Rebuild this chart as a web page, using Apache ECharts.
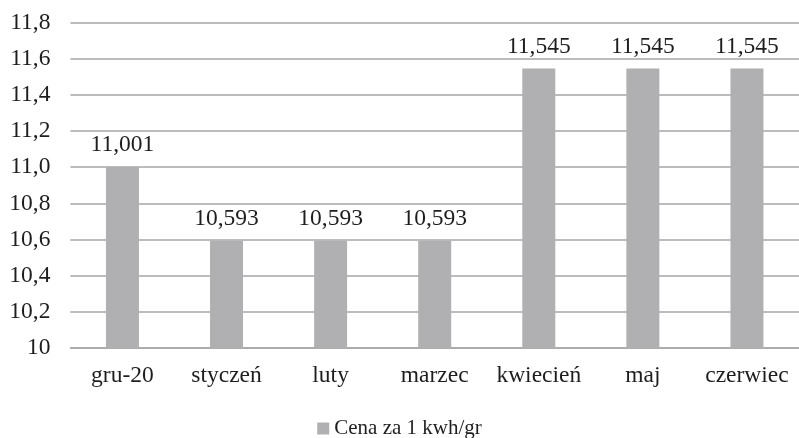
<!DOCTYPE html>
<html><head><meta charset="utf-8">
<script src="https://cdn.jsdelivr.net/npm/echarts@6/dist/echarts.min.js"></script>
<style>html,body{margin:0;padding:0;background:#fff}#c{width:799px;height:438px}</style>
</head><body><div id="c"></div>
<script>
const categories = ["gru-20","styczeń","luty","marzec","kwiecień","maj","czerwiec"];
const values = [11.001,10.593,10.593,10.593,11.545,11.545,11.545];
const seriesName = "Cena za 1 kwh/gr";
const FONT = "Liberation Serif";
const chart = echarts.init(document.getElementById('c'));
const fmt = v => Math.abs(v-10)<1e-9 ? "10" : v.toFixed(1).replace('.',',');
chart.setOption({
  animation:false,
  textStyle:{fontFamily:FONT},
  grid:{left:70.4,top:22.5,width:732.6,height:325.5,containLabel:false},
  legend:{top:418,left:'center',data:[seriesName],itemWidth:12,itemHeight:12,icon:'rect',itemGap:5,
    padding:0,textStyle:{fontFamily:FONT,fontSize:21,color:'#1e1e1e',padding:[0,0,0,0]}},
  xAxis:{type:'category',data:categories,
    axisLine:{lineStyle:{color:'#a6a6a6',width:1.5}},axisTick:{show:false},
    axisLabel:{fontFamily:FONT,fontSize:23.5,color:'#1e1e1e',margin:16,interval:0}},
  yAxis:{type:'value',min:10,max:11.8,interval:0.2,
    axisLine:{show:false},axisTick:{show:false},
    splitLine:{lineStyle:{color:'#a6a6a6',width:1.5}},
    axisLabel:{fontFamily:FONT,fontSize:23.5,color:'#1e1e1e',margin:20,formatter:fmt}},
  series:[{name:seriesName,type:'bar',data:values,barWidth:33,
    itemStyle:{color:'#b0b0b2'},
    label:{show:true,position:'top',distance:10,fontFamily:FONT,fontSize:23.5,color:'#1e1e1e',
      formatter:p=>p.value.toFixed(3).replace('.',',')}}]
});
</script></body></html>
